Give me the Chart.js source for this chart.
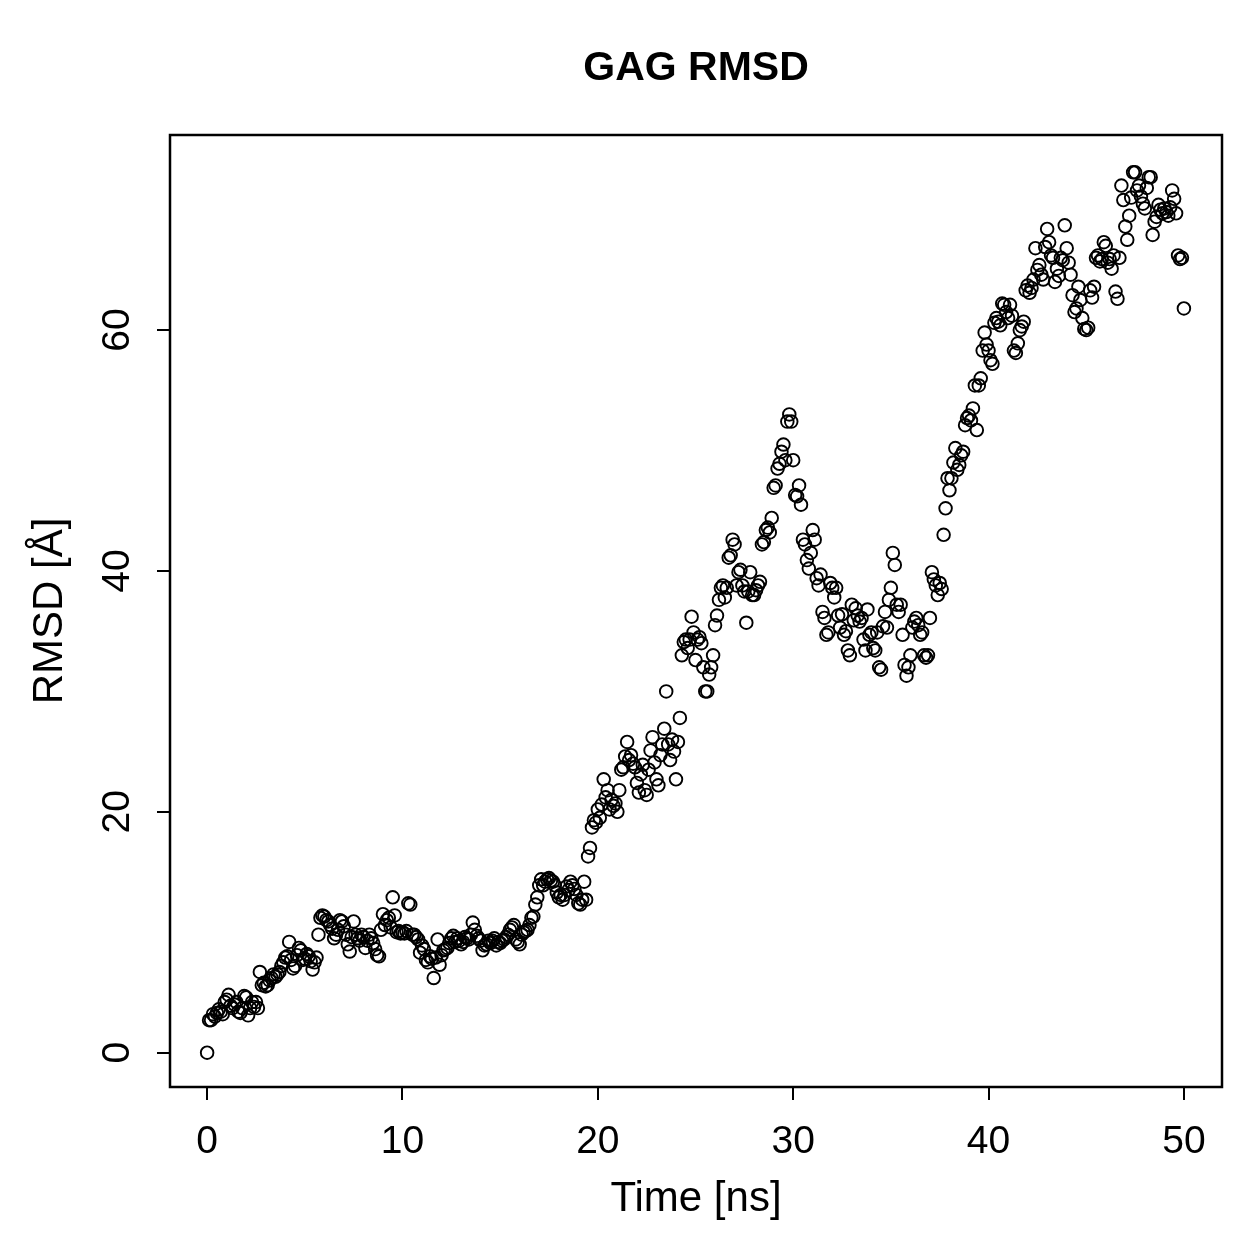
<!DOCTYPE html>
<html>
<head>
<meta charset="utf-8">
<title>GAG RMSD</title>
<script src="https://cdn.jsdelivr.net/npm/chart.js@4.4.1/dist/chart.umd.min.js"></script>
<style>
  html, body { margin: 0; padding: 0; background: #fff; }
  #wrap { width: 1259px; height: 1259px; }
</style>
</head>
<body>
<div id="wrap"><canvas id="rmsdChart" width="1259" height="1259"></canvas></div>
<script>
// RMSD [Å], one sample every 0.1 ns from 0 to 50 ns (one row = 1 ns)
var rmsd = [
    0.0, 2.7, 2.7, 3.2, 3.0, 3.3, 3.6, 3.4, 3.2, 4.2,
    4.4, 4.8, 3.9, 3.7, 4.0, 4.2, 3.4, 3.3, 3.7, 4.7,
    4.6, 3.1, 3.7, 4.2, 3.8, 4.2, 3.7, 6.7, 5.6, 5.8,
    5.5, 5.6, 6.0, 6.2, 6.5, 6.3, 6.5, 6.7, 7.2, 7.5,
    7.9, 8.0, 9.2, 7.7, 7.0, 7.2, 8.1, 8.7, 8.5, 7.7,
    7.8, 8.2, 8.0, 7.6, 6.9, 7.5, 7.9, 9.8, 11.2, 11.4,
    11.3, 11.0, 10.9, 10.6, 10.3, 9.5, 9.8, 10.2, 11.0, 10.9,
    10.5, 9.8, 9.0, 8.4, 9.6, 10.9, 9.8, 9.5, 9.3, 9.8,
    9.6, 8.7, 9.3, 9.8, 9.5, 9.1, 8.6, 8.1, 8.0, 10.2,
    11.5, 10.6, 11.0, 11.2, 10.4, 12.9, 11.4, 10.0, 10.1, 9.9,
    10.0, 9.9, 10.1, 12.4, 12.3, 9.8, 9.8, 9.6, 9.4, 8.3,
    8.9, 8.6, 7.7, 7.5, 8.0, 7.8, 6.2, 7.9, 9.4, 7.3,
    8.1, 8.5, 8.6, 8.7, 9.1, 9.5, 9.7, 9.2, 9.5, 9.3,
    9.0, 9.2, 9.6, 9.5, 9.4, 9.8, 10.8, 10.2, 9.7, 9.5,
    9.3, 8.5, 8.9, 9.0, 9.3, 9.1, 9.3, 9.5, 8.9, 9.2,
    9.1, 9.3, 9.4, 9.6, 9.8, 10.2, 10.4, 10.6, 9.4, 9.2,
    9.0, 9.8, 10.0, 10.1, 10.2, 10.6, 11.2, 11.3, 12.3, 12.9,
    13.9, 14.4, 13.9, 14.2, 14.4, 14.5, 14.3, 14.2, 13.9, 13.3,
    12.9, 13.1, 12.7, 13.1, 13.8, 13.5, 14.2, 13.9, 13.6, 13.1,
    12.4, 12.3, 12.7, 14.2, 12.7, 16.3, 17.0, 18.7, 19.3, 19.1,
    20.2, 19.5, 20.6, 22.7, 21.2, 21.8, 20.2, 21.0, 20.5, 20.7,
    20.0, 21.8, 23.5, 23.7, 24.6, 25.8, 24.3, 24.7, 24.0, 23.7,
    22.4, 21.6, 23.1, 23.9, 21.8, 21.4, 23.5, 25.1, 26.2, 24.1,
    22.7, 22.2, 24.7, 25.6, 26.9, 30.0, 25.6, 24.3, 26.0, 25.0,
    22.7, 25.8, 27.8, 33.0, 34.1, 34.3, 33.6, 34.3, 36.2, 34.9,
    32.6, 34.3, 34.5, 34.0, 32.0, 30.0, 30.0, 31.4, 32.0, 33.0,
    35.5, 36.3, 37.6, 38.6, 38.8, 37.8, 38.6, 41.1, 41.3, 42.6,
    42.2, 38.8, 39.9, 40.1, 38.8, 38.3, 35.7, 38.3, 39.9, 38.0,
    38.0, 38.4, 38.8, 39.1, 42.2, 42.4, 43.4, 43.6, 43.2, 44.4,
    46.9, 47.1, 48.5, 48.9, 49.9, 50.5, 49.2, 52.4, 53.0, 52.4,
    49.2, 46.3, 46.2, 47.1, 45.5, 42.6, 42.2, 40.9, 40.2, 41.5,
    43.4, 42.6, 39.4, 38.8, 39.7, 36.6, 36.1, 34.7, 34.9, 39.0,
    38.6, 37.8, 38.6, 36.3, 35.3, 36.4, 34.7, 35.0, 33.4, 33.0,
    37.2, 35.9, 36.9, 36.3, 35.8, 36.1, 34.3, 33.4, 36.8, 34.7,
    34.9, 33.6, 33.4, 34.9, 32.0, 31.8, 35.4, 36.6, 35.3, 37.6,
    38.6, 41.5, 40.5, 37.2, 36.6, 37.2, 34.7, 32.2, 31.3, 32.0,
    33.0, 35.3, 35.8, 36.1, 35.5, 34.7, 34.9, 33.0, 32.8, 33.0,
    36.1, 39.9, 39.3, 38.8, 38.0, 39.0, 38.5, 43.0, 45.2, 47.7,
    46.7, 47.7, 49.0, 50.2, 48.4, 48.8, 49.6, 49.9, 52.1, 52.7,
    52.9, 52.5, 53.5, 55.4, 51.7, 55.4, 56.0, 58.3, 59.8, 58.8,
    58.3, 57.5, 57.2, 60.6, 61.0, 60.7, 60.4, 62.2, 62.1, 61.5,
    61.0, 62.1, 61.2, 58.3, 58.1, 58.9, 60.0, 60.3, 60.7, 63.3,
    63.7, 63.1, 63.5, 64.2, 66.8, 65.0, 65.4, 64.6, 64.2, 66.9,
    68.4, 67.3, 66.2, 66.0, 64.0, 65.1, 64.5, 66.0, 65.8, 68.7,
    66.8, 65.6, 64.6, 62.9, 61.5, 61.8, 63.6, 62.5, 61.0, 60.1,
    60.0, 60.2, 63.3, 62.7, 63.6, 66.0, 66.2, 65.7, 65.9, 67.3,
    67.0, 65.6, 65.9, 65.1, 66.2, 63.2, 62.6, 66.0, 72.0, 70.8,
    68.6, 67.5, 69.5, 71.0, 73.1, 73.1, 71.6, 72.0, 71.1, 70.5,
    70.1, 71.8, 72.7, 72.7, 67.9, 69.0, 69.4, 70.4, 70.0, 69.7,
    70.1, 69.8, 69.5, 70.2, 71.6, 70.9, 69.7, 66.2, 65.9, 66.0,
    61.8
];
var timeStep = 0.1;   // ns between frames
var xTicks = [0, 10, 20, 30, 40, 50];
var yTicks = [0, 20, 40, 60];

var FONT = "'Liberation Sans', Arial, Helvetica, sans-serif";

var points = rmsd.map(function(v, i) {
    return { x: i * timeStep, y: v };
});

// frame around the plot region (like R's box())
var boxPlugin = {
    id: 'rBox',
    afterDraw: function(chart) {
        var a = chart.chartArea;
        var ctx = chart.ctx;
        ctx.save();
        ctx.strokeStyle = '#000';
        ctx.lineWidth = 2.5;
        ctx.strokeRect(a.left, a.top, a.right - a.left, a.bottom - a.top);
        ctx.restore();
    }
};

var ctx = document.getElementById('rmsdChart').getContext('2d');
var rmsdChart = new Chart(ctx, {
    type: 'scatter',
    data: {
        datasets: [{
            label: 'RMSD',
            data: points,
            pointStyle: 'circle',
            pointRadius: 6.3,
            pointBorderWidth: 1.9,
            borderColor: '#000',
            backgroundColor: 'rgba(0,0,0,0)',
            showLine: false
        }]
    },
    options: {
        responsive: false,
        animation: false,
        devicePixelRatio: 1,
        layout: {
            padding: { left: 0, right: 37, top: 0, bottom: 0 }
        },
        plugins: {
            legend: { display: false },
            tooltip: { enabled: false },
            title: {
                display: true,
                text: 'GAG RMSD',
                fullSize: false,
                color: '#000',
                font: { family: FONT, size: 41, weight: 'bold', lineHeight: 1.2 },
                padding: { top: 44, bottom: 41.8 }
            }
        },
        scales: {
            x: {
                type: 'linear',
                min: -1.9,
                max: 51.95,
                afterBuildTicks: function(scale) {
                    scale.ticks = xTicks.map(function(v) { return { value: v }; });
                },
                afterFit: function(scale) {
                    scale.height = 172;
                },
                border: { display: false },
                grid: {
                    drawOnChartArea: false,
                    drawTicks: true,
                    tickLength: 13,
                    color: '#000',
                    lineWidth: 2
                },
                ticks: {
                    color: '#000',
                    autoSkip: false,
                    maxRotation: 0,
                    padding: 19,
                    font: { family: FONT, size: 39 }
                },
                title: {
                    display: true,
                    text: 'Time [ns]',
                    color: '#000',
                    font: { family: FONT, size: 42, lineHeight: 1.2 },
                    padding: { top: 0, bottom: 34 }
                }
            },
            y: {
                type: 'linear',
                min: -2.85,
                max: 76.2,
                afterBuildTicks: function(scale) {
                    scale.ticks = yTicks.map(function(v) { return { value: v }; });
                },
                afterFit: function(scale) {
                    scale.width = 170;
                },
                border: { display: false },
                grid: {
                    drawOnChartArea: false,
                    drawTicks: true,
                    tickLength: 13,
                    color: '#000',
                    lineWidth: 2
                },
                ticks: {
                    color: '#000',
                    autoSkip: false,
                    minRotation: 90,
                    maxRotation: 90,
                    crossAlign: 'center',
                    padding: 17,
                    font: { family: FONT, size: 39 }
                },
                title: {
                    display: true,
                    text: 'RMSD [Å]',
                    color: '#000',
                    font: { family: FONT, size: 42, lineHeight: 1.2 },
                    padding: { top: 25, bottom: 0 }
                }
            }
        }
    },
    plugins: [boxPlugin]
});
</script>
</body>
</html>
